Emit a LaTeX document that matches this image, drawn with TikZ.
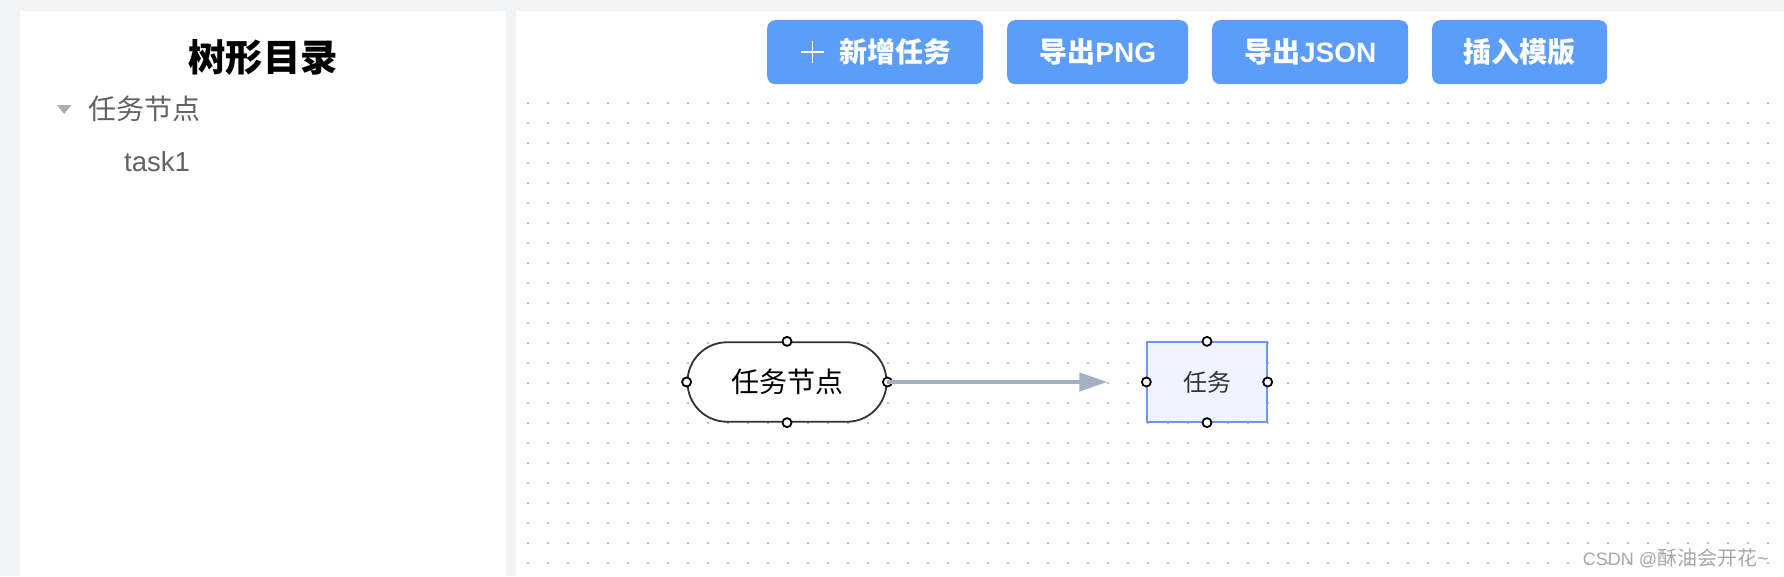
\documentclass[tikz,border=0pt]{standalone}
\usepackage{fontspec}
\usetikzlibrary{arrows.meta}
\setmainfont{Noto Sans CJK SC}
\newfontfamily\latinfont{Liberation Sans}
\definecolor{pagebg}{HTML}{F2F3F5}
\definecolor{btn}{HTML}{5C9DF9}
\definecolor{treetext}{HTML}{606266}
\definecolor{treetri}{HTML}{ABAEB5}
\definecolor{dotc}{HTML}{BDBDBD}
\definecolor{linec}{HTML}{A3B0C2}
\definecolor{taskfill}{HTML}{EFF4FF}
\definecolor{taskline}{HTML}{6F97F0}
\definecolor{ink}{HTML}{333333}
\definecolor{wmark}{HTML}{A8A8A8}
\newcommand{\fs}[1]{\fontsize{#1}{#1}\selectfont}
\newcommand{\btnlat}[1]{{\latinfont\fs{28}#1}}
\tikzset{
  btnbox/.style={fill=btn,draw=none,rounded corners=8pt,anchor=north west,inner sep=0pt,minimum height=64pt},
  btntext/.style={text=white,font=\fs{28}\bfseries,inner sep=0pt},
  port/.style={circle,draw=black,fill=white,line width=1.8pt,minimum size=9pt,inner sep=0pt},
  treelabel/.style={text=treetext,inner sep=0pt,anchor=west},
}
\begin{document}
\begin{tikzpicture}[x=1pt,y=-1pt]
\useasboundingbox (0,0) rectangle (1784,576);
\fill[pagebg] (0,0) rectangle (1784,576);
\fill[white] (20,11) rectangle (506,576);
\fill[white] (516,11) rectangle (1784,576);
% dot grid
\foreach \gx in {0,...,62}{\foreach \gy in {0,...,23}{
  \fill[dotc] ({527+20*\gx},{102+20*\gy}) rectangle ++(2,2);
}}
% tree
\node[inner sep=0pt,font=\fs{37.4}\bfseries,text=black] (title) at (263,57) {树形目录};
\fill[treetri] (57,105) -- (71.5,105) -- (64.2,114) -- cycle;
\node[treelabel,font=\fs{28}] (tree1) at (88.5,109) {任务节点};
\node[treelabel,font=\fs{27.5}\latinfont] (tree2) at (124,162) {task1};
% buttons
\node[btnbox,minimum width=216pt] (b1) at (767,20) {};
\node[btnbox,minimum width=181pt] (b2) at (1007,20) {};
\node[btnbox,minimum width=196pt] (b3) at (1212,20) {};
\node[btnbox,minimum width=175pt] (b4) at (1432,20) {};
\draw[white,line width=1.6pt] (801,52) -- (824,52) (812.5,41) -- (812.5,63);
\node[btntext] (t1) at (895,52) {新增任务};
\node[btntext] (t2) at (b2.center) {导出\btnlat{PNG}};
\node[btntext] (t3) at (b3.center) {导出\btnlat{JSON}};
\node[btntext] (t4) at (b4.center) {插入模版};
% flow
\node[draw=ink,fill=white,line width=1.8pt,rounded corners=39.5pt,minimum width=199pt,minimum height=79.5pt,inner sep=0pt,font=\fs{28},text=black] (start) at (787,382) {任务节点};
\node[draw=taskline,fill=taskfill,line width=1.8pt,minimum width=119.5pt,minimum height=79.5pt,inner sep=0pt,font=\fs{24},text=ink] (task) at (1207,382) {任务};
\foreach \n/\a in {start/north,start/south,start/west,start/east,task/north,task/south,task/west,task/east}{
  \node[port] at (\n.\a) {};
}
\draw[linec,line width=4pt,shorten >=39pt,-{Triangle[length=28pt,width=18pt]}] (start.east) -- (task.west);
\node[text=wmark,font=\fs{20},inner sep=0pt,anchor=east] (wm) at (1769,558) {{\latinfont\fs{18}CSDN @}酥油会开花{\latinfont\textasciitilde}};
\end{tikzpicture}
\end{document}
